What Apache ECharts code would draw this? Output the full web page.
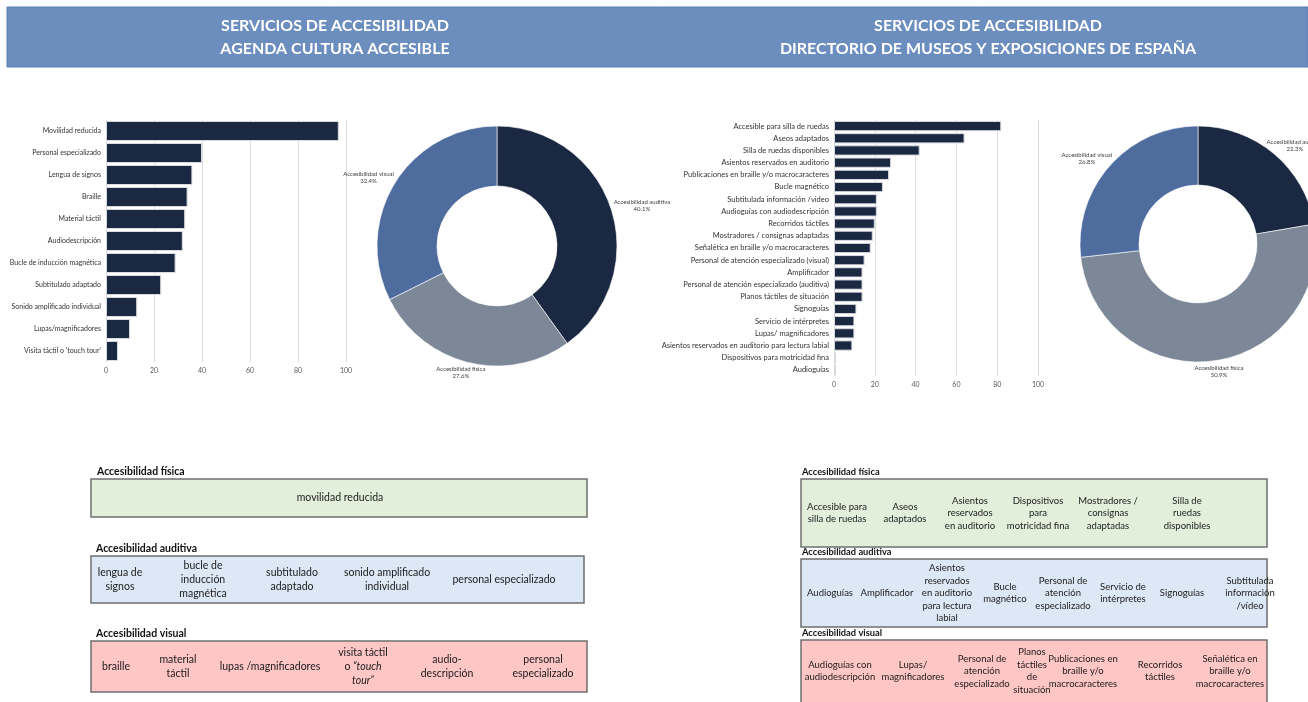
<!DOCTYPE html>
<html>
<head>
<meta charset="utf-8">
<script src="https://cdn.jsdelivr.net/npm/echarts@6/dist/echarts.min.js"></script>
<style>
  html, body { margin: 0; padding: 0; background: #fff; }
  #main { width: 1308px; height: 702px; }
</style>
</head>
<body>
<div id="main"></div>
<script>
// Agenda Cultura Accesible
const agendaServicios = ['Movilidad reducida', 'Personal especializado', 'Lengua de signos', 'Braille', 'Material táctil',
  'Audiodescripción', 'Bucle de inducción magnética', 'Subtitulado adaptado', 'Sonido amplificado individual',
  'Lupas/magnificadores', "Visita táctil o 'touch tour'"]
const agendaValores = [97, 40, 36, 34, 33, 32, 29, 23, 13, 10, 5]

// Directorio de museos y exposiciones
const museosServicios = ['Accesible para silla de ruedas', 'Aseos adaptados', 'Silla de ruedas disponibles',
  'Asientos reservados en auditorio', 'Publicaciones en braille y/o macrocaracteres', 'Bucle magnético',
  'Subtitulada información /video', 'Audioguías con audiodescripción', 'Recorridos táctiles',
  'Mostradores / consignas adaptadas', 'Señalética en braille y/o macrocaracteres',
  'Personal de atención especializado (visual)', 'Amplificador', 'Personal de atención especializado (auditiva)',
  'Planos táctiles de situación', 'Signoguías', 'Servicio de intérpretes', 'Lupas/ magnificadores',
  'Asientos reservados en auditorio para lectura labial', 'Dispositivos para motricidad fina', 'Audioguías']
const museosValores = [82, 64, 42, 28, 27, 24, 21, 21, 20, 19, 18, 15, 14, 14, 14, 11, 10, 10, 9, 1, 1]

// reparto por tipo de accesibilidad (%)
const tipos = ['Accesibilidad auditiva', 'Accesibilidad física', 'Accesibilidad visual']
const agendaPct = [40.1, 27.6, 32.4]
const museosPct = [22.3, 50.9, 26.8]

// escala de las barras
const ejeMin = 0
const ejeMax = 100
const ejePaso = 20

// servicios agrupados (cuadros inferiores)
const agendaFisica = ['movilidad reducida']
const agendaAuditiva = ['lengua de\nsignos', 'bucle de\ninducción\nmagnética', 'subtitulado\nadaptado',
  'sonido amplificado\nindividual', 'personal especializado']
const agendaVisual = ['braille', 'material\ntáctil', 'lupas /magnificadores', 'visita táctil\no {i|“touch}\n{i|tour”}',
  'audio-\ndescripción', 'personal\nespecializado']
const museosFisica = ['Accesible para\nsilla de ruedas', 'Aseos\nadaptados', 'Asientos\nreservados\nen auditorio',
  'Dispositivos\npara\nmotricidad fina', 'Mostradores /\nconsignas\nadaptadas', 'Silla de\nruedas\ndisponibles']
const museosAuditiva = ['Audioguías', 'Amplificador', 'Asientos\nreservados\nen auditorio\npara lectura\nlabial',
  'Bucle\nmagnético', 'Personal de\natención\nespecializado', 'Servicio de\nintérpretes', 'Signoguías',
  'Subtitulada\ninformación\n/vídeo']
const museosVisual = ['Audioguías con\naudiodescripción', 'Lupas/\nmagnificadores', 'Personal de\natención\nespecializado',
  'Planos\ntáctiles\nde\nsituación', 'Publicaciones en\nbraille y/o\nmacrocaracteres', 'Recorridos\ntáctiles',
  'Señalética en\nbraille y/o\nmacrocaracteres']

const FONT = 'Lato, "Open Sans", sans-serif'
const NAVY = '#1b2842'
const pieColors = [NAVY, '#7c8797', '#4f6c9f']

function ejeX (gridIndex) {
  return {
    type: 'value', gridIndex, min: ejeMin, max: ejeMax, interval: ejePaso,
    axisLine: { show: false }, axisTick: { show: false },
    splitLine: { lineStyle: { color: '#dcdcdc' } },
    axisLabel: { fontSize: 7, color: '#595959', fontFamily: FONT, margin: 5 }
  }
}
function ejeY (gridIndex, cats, size) {
  return {
    type: 'category', gridIndex, data: cats, inverse: true,
    axisLine: { show: false }, axisTick: { show: false },
    axisLabel: { fontSize: size, color: '#333', fontFamily: FONT, margin: 5 }
  }
}
function barras (i, vals, gap) {
  return {
    type: 'bar', xAxisIndex: i, yAxisIndex: i, data: vals, barCategoryGap: gap,
    itemStyle: { color: NAVY, borderColor: '#d8dbe0', borderWidth: 1 },
    silent: true
  }
}

// etiqueta pegada por fuera del borde, como en Excel
function etiquetaFuera (params) {
  const pts = params.labelLinePoints
  if (!pts) return {}
  const dx = pts[1][0] - pts[0][0]
  const dy = pts[1][1] - pts[0][1]
  const len = Math.sqrt(dx * dx + dy * dy) || 1
  const ux = dx / len
  const uy = dy / len
  const w = params.labelRect.width
  const h = params.labelRect.height
  return {
    x: pts[0][0] + ux * 4 + ux * w / 2,
    y: pts[0][1] + uy * 4 + uy * h / 2,
    align: 'center',
    verticalAlign: 'middle'
  }
}

function dona (center, radius, pct) {
  return {
    type: 'pie', center, radius, startAngle: 90, clockwise: true, silent: true,
    avoidLabelOverlap: false,
    data: tipos.map((n, i) => ({ name: n, value: pct[i], itemStyle: { color: pieColors[i] } })),
    itemStyle: { borderColor: '#fff', borderWidth: 0.6 },
    label: {
      show: true, position: 'outside', color: '#404040', fontFamily: FONT,
      formatter: p => '{a|' + p.name + '}\n{a|' + p.value.toFixed(1) + '%}',
      rich: { a: { fontSize: 6, lineHeight: 7, width: 54, align: 'center', color: '#404040', fontFamily: FONT } }
    },
    labelLine: { show: true, length: 6, length2: 0, lineStyle: { opacity: 0 } },
    labelLayout: etiquetaFuera
  }
}

// cuadro con titulo y servicios repartidos
function cuadro (x, y, w, h, fill, titulo, items, xs, tx, tSize, size, lh) {
  const els = [
    { type: 'text', left: x + tx, top: y - tSize - 2.5,
      style: { text: titulo, font: 'bold ' + tSize + 'px ' + FONT, fill: '#111' } },
    { type: 'rect', shape: { x, y, width: w, height: h },
      style: { fill, stroke: '#6f6f6f', lineWidth: 1.5 } }
  ]
  const cy = y + Math.min(h, 702 - y) / 2
  items.forEach((t, i) => {
    els.push({
      type: 'text', x: xs[i], y: cy,
      style: {
        text: t, align: 'center', verticalAlign: 'middle', fill: '#1a1a1a',
        font: size + 'px ' + FONT, lineHeight: lh,
        rich: { i: { fontStyle: 'italic', fontSize: size, lineHeight: lh, fontFamily: FONT, fill: '#1a1a1a' } }
      }
    })
  })
  return els
}

const graficos = [
  { type: 'rect', shape: { x: 7, y: 7, width: 1301, height: 60 }, style: { fill: '#6b8ebf', stroke: '#5a7db0', lineWidth: 1 } },
  { type: 'text', x: 335, y: 37, style: { text: 'SERVICIOS DE ACCESIBILIDAD\nAGENDA CULTURA ACCESIBLE', align: 'center', verticalAlign: 'middle', fill: '#fff', font: 'bold 16px ' + FONT, lineHeight: 23 } },
  { type: 'text', x: 988, y: 37, style: { text: 'SERVICIOS DE ACCESIBILIDAD\nDIRECTORIO DE MUSEOS Y EXPOSICIONES DE ESPAÑA', align: 'center', verticalAlign: 'middle', fill: '#fff', font: 'bold 16px ' + FONT, lineHeight: 23 } }
]
  .concat(cuadro(91, 479, 496, 38, '#e2efda', 'Accesibilidad física', agendaFisica, [340], 6, 10.5, 10.5, 14))
  .concat(cuadro(91, 556, 493, 47, '#dde8f6', 'Accesibilidad auditiva', agendaAuditiva, [120, 203, 292, 387, 504], 5, 10.5, 10.5, 14))
  .concat(cuadro(91, 641, 496, 51, '#ffc6c6', 'Accesibilidad visual', agendaVisual, [116, 178, 270, 363, 447, 543], 5, 10.5, 10.5, 14))
  .concat(cuadro(801, 479, 466, 68, '#e2efda', 'Accesibilidad física', museosFisica, [837, 905, 970, 1038, 1108, 1187], 1, 9.3, 9.5, 12.5))
  .concat(cuadro(801, 559, 466, 68, '#dde8f6', 'Accesibilidad auditiva', museosAuditiva, [830, 887, 947, 1005, 1063, 1123, 1182, 1250], 1, 9.3, 9.5, 12.5))
  .concat(cuadro(801, 640, 466, 70, '#ffc6c6', 'Accesibilidad visual', museosVisual, [840, 913, 982, 1032, 1083, 1160, 1230], 1, 9.3, 9.5, 12.5))

const chart = echarts.init(document.getElementById('main'), null, { renderer: 'canvas' })
chart.setOption({
  animation: false,
  backgroundColor: '#fff',
  grid: [
    { left: 106, top: 120, width: 240, height: 242 },
    { left: 834, top: 120, width: 204, height: 256 }
  ],
  xAxis: [ejeX(0), ejeX(1)],
  yAxis: [ejeY(0, agendaServicios, 7), ejeY(1, museosServicios, 7.5)],
  series: [
    barras(0, agendaValores, '9%'),
    barras(1, museosValores, '16%'),
    dona([497, 246], [60, 120], agendaPct),
    dona([1198, 244], [59, 118], museosPct)
  ],
  graphic: graficos
})
</script>
</body>
</html>
